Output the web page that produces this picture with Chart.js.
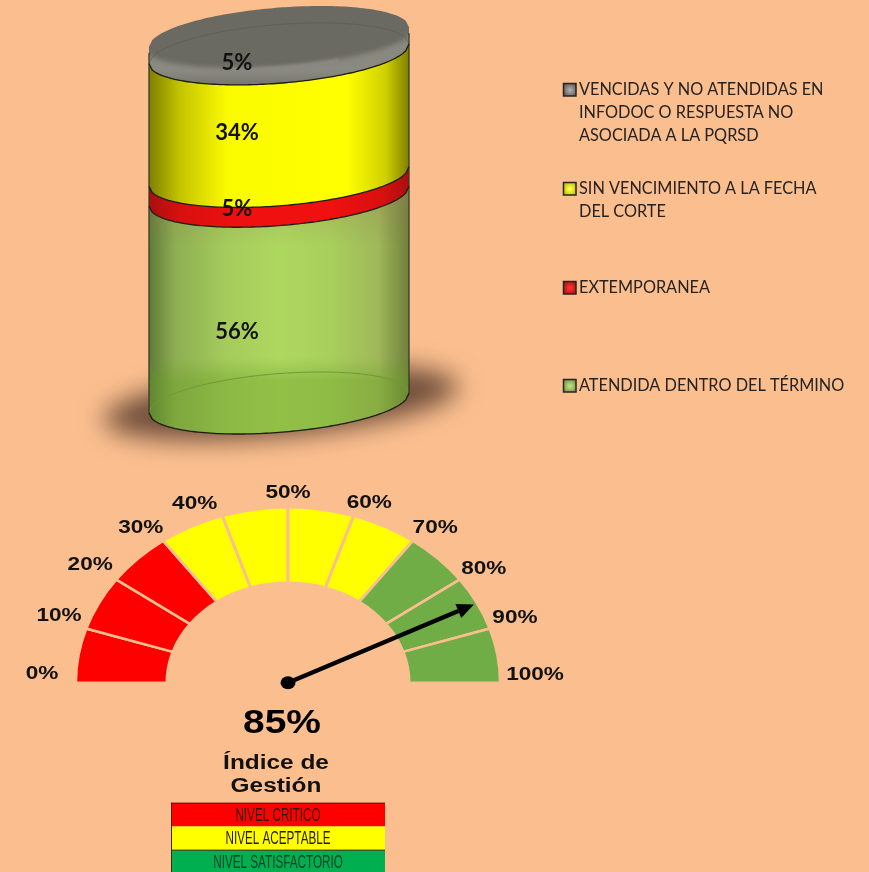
<!DOCTYPE html>
<html>
<head>
<meta charset="utf-8">
<title>Índice de Gestión</title>
<script src="https://cdn.jsdelivr.net/npm/chart.js@4/dist/chart.umd.min.js"></script>
<style>
  html, body { margin: 0; padding: 0; background: #FBBF8F; }
  body { width: 869px; height: 872px; position: relative; overflow: hidden; }
  canvas { position: absolute; left: 0; }
  #cylinder { top: 0; }
  #gauge { top: 470px; }
</style>
</head>
<body>
<canvas id="cylinder" width="869" height="470"></canvas>
<canvas id="gauge" width="869" height="402"></canvas>
<script>
// cylinder data, bottom to top
const seriesNames = ['ATENDIDA DENTRO DEL TÉRMINO', 'EXTEMPORANEA', 'SIN VENCIMIENTO A LA FECHA DEL CORTE', 'VENCIDAS Y NO ATENDIDAS EN INFODOC O RESPUESTA NO ASOCIADA A LA PQRSD'];
const seriesValues = [56.49, 5.4, 33.5, 4.61];
const legendLines = [
  ['VENCIDAS Y NO ATENDIDAS EN', 'INFODOC O RESPUESTA NO', 'ASOCIADA A LA PQRSD'],
  ['SIN VENCIMIENTO A LA FECHA', 'DEL CORTE'],
  ['EXTEMPORANEA'],
  ['ATENDIDA DENTRO DEL TÉRMINO']
];

// gauge data
const gaugeSteps = [10, 10, 10, 10, 10, 10, 10, 10, 10, 10];
const gaugeTicks = ['0%', '10%', '20%', '30%', '40%', '50%', '60%', '70%', '80%', '90%', '100%'];
const gaugeValue = 85;
const gaugeTitle = ['Índice de', 'Gestión'];
const levelNames = ['NIVEL CRITICO', 'NIVEL ACEPTABLE', 'NIVEL SATISFACTORIO'];

const BG = '#FBBF8F';
const RED = '#FF0000', YELLOW = '#FFFF00', GREEN = '#70AD47';

// horizontal shading of each cylinder segment
const bodyStops = [
  [[0, '#5f7a3a'], [0.1, '#8eae52'], [0.3, '#a5cc5c'], [0.5, '#aed75f'], [0.7, '#a8cf5c'], [0.88, '#a0b85a'], [1, '#6f7f3c']],
  [[0, '#a80f0f'], [0.12, '#d81010'], [0.35, '#f01010'], [0.7, '#f01010'], [0.9, '#d81010'], [1, '#a80f0f']],
  [[0, '#7f7f00'], [0.12, '#c4c400'], [0.3, '#fbfb00'], [0.76, '#ffff00'], [0.91, '#d0d000'], [1, '#7f7f00']],
  [[0, '#6a6962'], [1, '#6a6962']]
];
const swatchColors = [['#a8a8a8', '#555'], ['#ffff40', '#b8b800'], ['#ff3030', '#a01010'], ['#b8dc80', '#6f8f40']];

// ellipse shape of the cylinder cross section
const ELL_B = 29.4, ELL_SKEW = -9.85;
function arcY(cy, x, cx, a, upper) {
  const u = (x - cx) / a;
  return cy + ELL_SKEW * u + (upper ? -1 : 1) * ELL_B * Math.sqrt(Math.max(0, 1 - u * u));
}
function traceArc(ctx, cy, cx, a, upper, reverse, moveFirst) {
  const n = 80;
  for (let i = 0; i <= n; i++) {
    const t = reverse ? 1 - i / n : i / n;
    const x = cx - a + 2 * a * t;
    const y = arcY(cy, x, cx, a, upper);
    if (i === 0 && moveFirst) ctx.moveTo(x, y); else ctx.lineTo(x, y);
  }
}
function hGradient(ctx, x0, x1, stops) {
  const g = ctx.createLinearGradient(x0, 0, x1, 0);
  stops.forEach(s => g.addColorStop(s[0], s[1]));
  return g;
}

const labelShift = [32, 23, 18, 17];

const cylinderPlugin = {
  id: 'cylinder',
  beforeDatasetsDraw(chart) {
    const ctx = chart.ctx, area = chart.chartArea;
    // soft shadow on the floor
    ctx.save();
    ctx.filter = 'blur(13px)';
    ctx.fillStyle = 'rgba(90,62,45,0.88)';
    ctx.beginPath();
    ctx.ellipse((area.left + area.right) / 2 + 2, area.bottom, 178, 33, -5.5 * Math.PI / 180, 0, Math.PI * 2);
    ctx.fill();
    ctx.restore();
  },
  beforeDatasetDraw(chart, args) {
    const ctx = chart.ctx, bar = args.meta.data[0], i = args.index;
    const a = bar.width / 2, cx = bar.x;
    ctx.save();
    ctx.beginPath();
    traceArc(ctx, bar.base, cx, a, false, false, true);
    traceArc(ctx, bar.y, cx, a, i === seriesValues.length - 1, true, false);
    ctx.closePath();
    ctx.fillStyle = hGradient(ctx, cx - a, cx + a, bodyStops[i]);
    ctx.fill();
    ctx.restore();
    return false; // the bar is replaced by this curved segment
  },
  afterDatasetsDraw(chart) {
    const ctx = chart.ctx;
    const bars = chart.data.datasets.map((d, i) => chart.getDatasetMeta(i).data[0]);
    const cx = bars[0].x, a = bars[0].width / 2;
    const left = cx - a, right = cx + a;
    const floor = bars[0].base, lid = bars[3];

    // green: floor shading, ellipse seen through the body, fade under the red band
    ctx.save();
    ctx.beginPath();
    traceArc(ctx, bars[0].base, cx, a, false, false, true);
    traceArc(ctx, bars[0].y, cx, a, false, true, false);
    ctx.closePath();
    ctx.clip();
    let g = ctx.createLinearGradient(0, floor - 45, 0, floor - 22);
    g.addColorStop(0, 'rgba(100,155,30,0)');
    g.addColorStop(1, 'rgba(100,155,30,0.38)');
    ctx.fillStyle = g;
    ctx.fillRect(left, floor - 45, 2 * a, 90);
    g = ctx.createLinearGradient(0, bars[0].y, 0, bars[0].y + 50);
    g.addColorStop(0, 'rgba(150,120,80,0.3)');
    g.addColorStop(1, 'rgba(150,120,80,0)');
    ctx.fillStyle = g;
    ctx.fillRect(left, bars[0].y - 20, 2 * a, 80);
    ctx.restore();

    ctx.strokeStyle = '#6c9a3c';
    ctx.lineWidth = 1;
    ctx.beginPath();
    traceArc(ctx, floor, cx, a, true, false, true);
    ctx.stroke();

    // grey lid: soft lighter rim under the lid ellipse, faint inner ellipse
    ctx.save();
    ctx.beginPath();
    traceArc(ctx, lid.base, cx, a, false, false, true);
    traceArc(ctx, lid.y, cx, a, true, true, false);
    ctx.closePath();
    ctx.clip();
    ctx.filter = 'blur(2.5px)';
    ctx.beginPath();
    traceArc(ctx, lid.base + 4, cx, a + 6, false, false, true);
    traceArc(ctx, lid.y, cx, a + 6, false, true, false);
    ctx.closePath();
    g = ctx.createLinearGradient(0, lid.y + 25, 0, lid.base + 30);
    g.addColorStop(0, '#8a8980');
    g.addColorStop(0.4, '#8c8b83');
    g.addColorStop(1, '#78776f');
    ctx.fillStyle = g;
    ctx.fill();
    ctx.restore();
    // highlight along the front of the lid only
    ctx.save();
    ctx.beginPath();
    ctx.rect(cx - 50, lid.y, 110, 50);
    ctx.clip();
    ctx.filter = 'blur(1.5px)';
    ctx.strokeStyle = 'rgba(170,170,160,0.55)';
    ctx.lineWidth = 1.5;
    ctx.beginPath();
    traceArc(ctx, lid.y + 1, cx, a, false, false, true);
    ctx.stroke();
    ctx.restore();
    ctx.strokeStyle = 'rgba(88,88,82,0.55)';
    ctx.lineWidth = 1;
    ctx.beginPath();
    traceArc(ctx, lid.base, cx, a, true, false, true);
    ctx.stroke();

    // walls
    ctx.strokeStyle = 'rgba(52,56,40,0.85)';
    ctx.lineWidth = 1.5;
    ctx.beginPath();
    ctx.moveTo(left, lid.y - ELL_SKEW + 6);
    ctx.lineTo(left, floor - ELL_SKEW);
    ctx.moveTo(right, lid.y + ELL_SKEW + 6);
    ctx.lineTo(right, floor + ELL_SKEW);
    ctx.stroke();

    // dark front edges
    ctx.strokeStyle = '#1c1c14';
    ctx.lineWidth = 1.3;
    bars.forEach(b => {
      ctx.beginPath();
      traceArc(ctx, b.base, cx, a, false, false, true);
      ctx.stroke();
    });

    // value labels
    ctx.fillStyle = '#111';
    ctx.font = 'bold 22px Lato';
    ctx.textAlign = 'center';
    ctx.textBaseline = 'middle';
    bars.forEach((b, i) => {
      ctx.fillText(Math.round(seriesValues[i]) + '%', cx - 42, (b.y + b.base) / 2 + labelShift[i]);
    });

    // legend
    const rowTop = [89, 188, 287, 385];
    ctx.textAlign = 'left';
    ctx.font = '16.3px Lato';
    legendLines.forEach((lines, i) => {
      const sy = rowTop[i] - 6, sx = 563;
      const c = swatchColors[i];
      const rg = ctx.createRadialGradient(sx + 7, sy + 7, 1, sx + 7, sy + 7, 8);
      rg.addColorStop(0, c[0]);
      rg.addColorStop(1, c[1]);
      ctx.fillStyle = rg;
      ctx.fillRect(sx, sy, 13, 13);
      ctx.strokeStyle = '#2a2420';
      ctx.lineWidth = 1.5;
      ctx.strokeRect(sx + 0.5, sy + 0.5, 12.5, 12.5);
      ctx.fillStyle = '#262220';
      lines.forEach((t, k) => ctx.fillText(t, 579, rowTop[i] + 1 + k * 23));
    });
  }
};

new Chart(document.getElementById('cylinder'), {
  type: 'bar',
  data: {
    labels: [''],
    datasets: seriesNames.map((name, i) => ({ label: name, data: [seriesValues[i]], backgroundColor: bodyStops[i][0][1] }))
  },
  options: {
    responsive: false,
    animation: false,
    layout: { padding: { left: 149, right: 460, top: 37, bottom: 67 } },
    datasets: { bar: { barPercentage: 1, categoryPercentage: 1 } },
    scales: {
      x: { stacked: true, display: false },
      y: { stacked: true, display: false, min: 0, max: 100 }
    },
    plugins: { legend: { display: false }, tooltip: { enabled: false } }
  },
  plugins: [cylinderPlugin]
});

// gauge is a half doughnut stretched sideways
const GAUGE_STRETCH = 1.21;
const tickNudge = [[1, -1], [6, -2], [2, -1], [-2, 3], [-17, 5], [0, 3], [5, 4], [2, 3], [-4, 3], [-8, 0], [0, 0]];

function stretchedText(ctx, text, x, y, sx) {
  ctx.save();
  ctx.translate(x, y);
  ctx.scale(sx, 1);
  ctx.fillText(text, 0, 0);
  ctx.restore();
}

const gaugePlugin = {
  id: 'gaugeLook',
  beforeDatasetsDraw(chart) {
    const arc = chart.getDatasetMeta(0).data[0];
    const ctx = chart.ctx;
    ctx.save();
    ctx.translate(arc.x, arc.y);
    ctx.scale(GAUGE_STRETCH, 1);
    ctx.translate(-arc.x, -arc.y);
  },
  afterDatasetsDraw(chart) {
    const ctx = chart.ctx;
    ctx.restore();
    const arc = chart.getDatasetMeta(0).data[0];
    const cx = arc.x, cy = arc.y, R = arc.outerRadius - 3;

    // needle
    const ang = Math.PI * (1 - gaugeValue / 100);
    const tipX = cx + R * GAUGE_STRETCH * Math.cos(ang), tipY = cy - R * Math.sin(ang);
    const dir = Math.atan2(tipY - cy, tipX - cx);
    const neckX = tipX - 17 * Math.cos(dir), neckY = tipY - 17 * Math.sin(dir);
    ctx.strokeStyle = '#000';
    ctx.fillStyle = '#000';
    ctx.lineWidth = 4.5;
    ctx.beginPath();
    ctx.moveTo(cx, cy);
    ctx.lineTo(neckX, neckY);
    ctx.stroke();
    ctx.beginPath();
    ctx.moveTo(tipX, tipY);
    ctx.lineTo(neckX + 7.5 * Math.sin(dir), neckY - 7.5 * Math.cos(dir));
    ctx.lineTo(neckX - 7.5 * Math.sin(dir), neckY + 7.5 * Math.cos(dir));
    ctx.closePath();
    ctx.fill();
    ctx.beginPath();
    ctx.ellipse(cx, cy, 7.5, 6.5, 0, 0, Math.PI * 2);
    ctx.fill();

    // tick labels round the arc
    ctx.fillStyle = '#111';
    ctx.textAlign = 'center';
    ctx.textBaseline = 'middle';
    ctx.font = 'bold 18.5px "Liberation Sans"';
    gaugeTicks.forEach((t, i) => {
      const th = Math.PI * (1 - i / 10);
      const x = cx + 247 * Math.cos(th) + tickNudge[i][0];
      const y = cy - 8 - 185 * Math.sin(th) + tickNudge[i][1];
      stretchedText(ctx, t, x, y, 1.22);
    });

    // value and title
    ctx.textBaseline = 'alphabetic';
    ctx.fillStyle = '#000';
    ctx.font = 'bold 33px "Liberation Sans"';
    stretchedText(ctx, gaugeValue + '%', cx - 6, cy + 50, 1.18);
    ctx.fillStyle = '#111';
    ctx.font = 'bold 20px "Liberation Sans"';
    stretchedText(ctx, gaugeTitle[0], cx - 12, cy + 86, 1.22);
    stretchedText(ctx, gaugeTitle[1], cx - 12, cy + 109, 1.22);

    // level key
    const rows = [RED, YELLOW, '#00B050'];
    const x0 = 171, w = 214, top = cy + 120, rowH = 23.7;
    rows.forEach((c, i) => {
      ctx.fillStyle = c;
      ctx.fillRect(x0, top + i * rowH, w, rowH);
    });
    ctx.strokeStyle = '#3a2a10';
    ctx.lineWidth = 1;
    ctx.beginPath();
    ctx.moveTo(x0, top + 0.5);
    ctx.lineTo(x0 + w, top + 0.5);
    ctx.moveTo(x0 + 0.5, top);
    ctx.lineTo(x0 + 0.5, top + 3 * rowH);
    ctx.moveTo(x0, top + 2 * rowH);
    ctx.lineTo(x0 + w, top + 2 * rowH);
    ctx.stroke();
    ctx.font = '18px "Liberation Sans"';
    ctx.textBaseline = 'middle';
    levelNames.forEach((t, i) => {
      ctx.fillStyle = i === 2 ? '#04402a' : '#2a1a00';
      stretchedText(ctx, t, x0 + w / 2, top + (i + 0.5) * rowH + 1, 0.65);
    });
  }
};

new Chart(document.getElementById('gauge'), {
  type: 'doughnut',
  data: {
    labels: gaugeTicks.slice(1),
    datasets: [{
      data: gaugeSteps,
      backgroundColor: [RED, RED, RED, YELLOW, YELLOW, YELLOW, YELLOW, GREEN, GREEN, GREEN],
      borderColor: BG,
      borderWidth: 2.5
    }]
  },
  options: {
    responsive: false,
    animation: false,
    rotation: -90,
    circumference: 180,
    cutout: '57%',
    layout: { padding: { left: 110, right: 403, top: 36, bottom: 188 } },
    plugins: { legend: { display: false }, tooltip: { enabled: false } }
  },
  plugins: [gaugePlugin]
});
</script>
</body>
</html>
